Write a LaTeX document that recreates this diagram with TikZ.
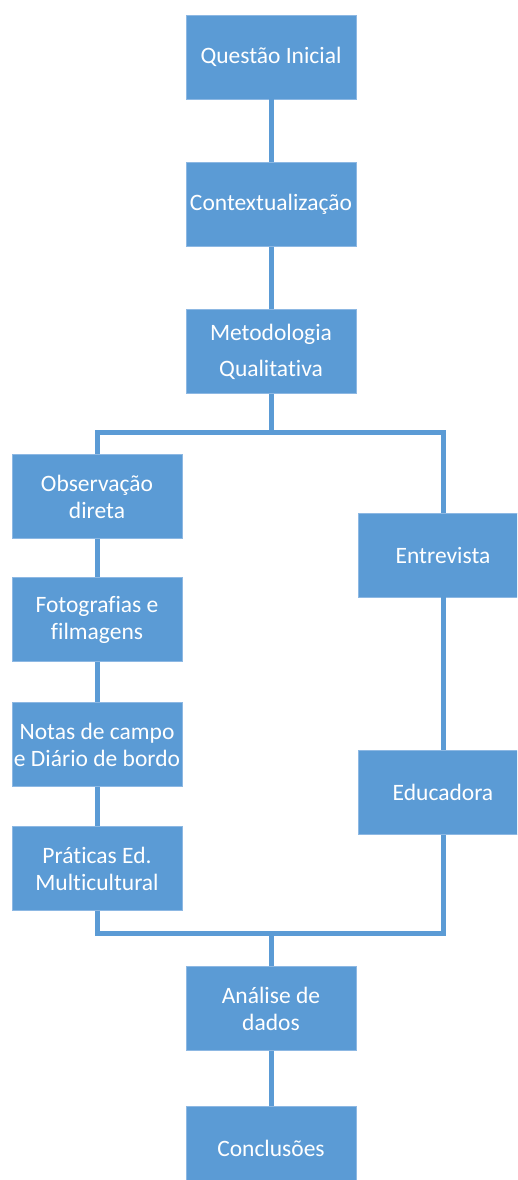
\documentclass[tikz,border=0pt]{standalone}
\usepackage{fontspec}
\setmainfont{Carlito}[Ligatures=NoCommon]
\definecolor{boxblue}{HTML}{5B9BD5}
\definecolor{boxedge}{HTML}{8DB8E3}

\begin{document}
\begin{tikzpicture}[x=1pt,y=-1pt,
  etapa/.style={fill=boxblue, draw=boxedge, line width=0.8pt, minimum width=170pt, minimum height=84pt,
    inner sep=0pt, align=center, text=white, font=\fontsize{23.5}{27}\selectfont},
  liga/.style={draw=boxblue, line width=5pt}]

\useasboundingbox (0,0) rectangle (517,1180);
\clip (0,0) rectangle (517,1180);

% central column
\node[etapa] (questao) at (271,57) {Questão Inicial};
\node[etapa] (contexto) at (271,204.5) {Contextualização};
\node[etapa] (metodo) at (271,351.5) {Metodologia\\[9pt]Qualitativa};

% left branch
\node[etapa] (observ) at (97,496.5) {Observação\\direta};
\node[etapa] (fotos) at (97,619.5) {Fotografias e\\filmagens};
\node[etapa] (notas) at (97,744.5) {Notas de campo\\e Diário de bordo};
\node[etapa] (praticas) at (97,868.5) {Práticas Ed.\\Multicultural};

% right branch
\node[etapa] (entrev) at (443,555) {Entrevista};
\node[etapa] (educa) at (443,792.5) {Educadora};

\node[etapa] (analise) at (271,1008.5) {Análise de\\dados};
\node[etapa] (conclu) at (271,1148) {Conclusões};

\coordinate (parte) at (271,432.5);
\coordinate (junta) at (271,933);

\draw[liga] (questao) -- (contexto);
\draw[liga] (contexto) -- (metodo);
\draw[liga] (metodo) -- (parte);
\draw[liga] (observ.north) |- (parte) -| (entrev.north);
\draw[liga] (observ) -- (fotos);
\draw[liga] (fotos) -- (notas);
\draw[liga] (notas) -- (praticas);
\draw[liga] (entrev) -- (educa);
\draw[liga] (praticas.south) |- (junta) -| (educa.south);
\draw[liga] (junta) -- (analise);
\draw[liga] (analise) -- (conclu);

\end{tikzpicture}
\end{document}
